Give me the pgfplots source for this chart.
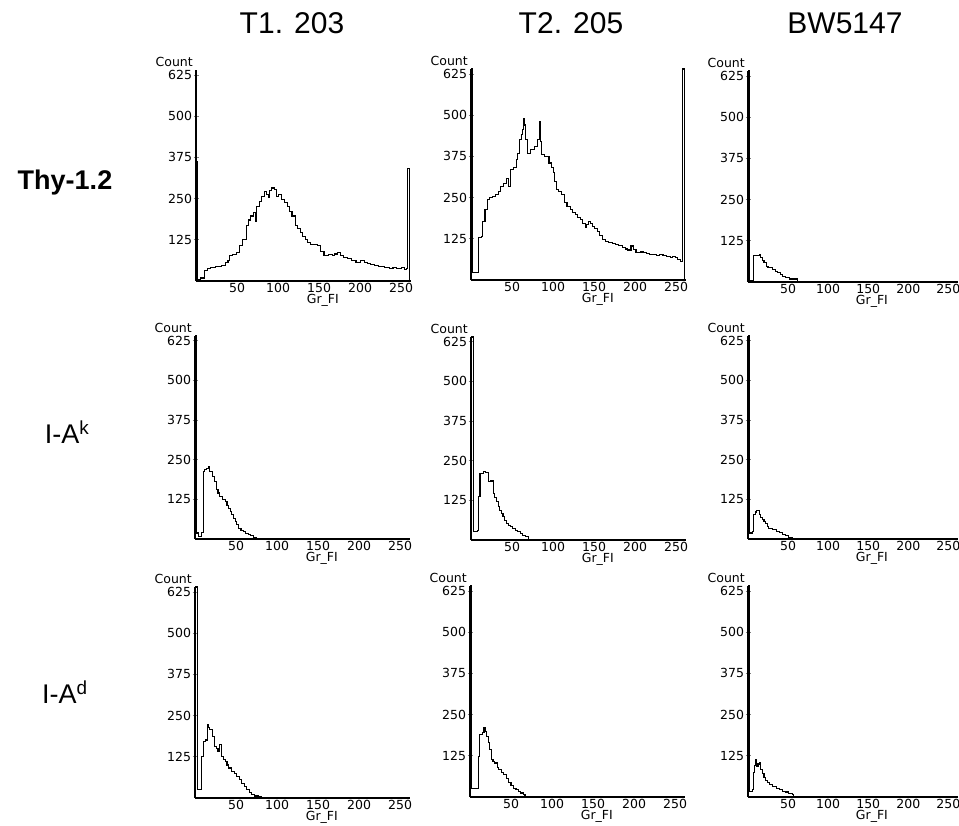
\documentclass[border=0pt]{standalone}
\usepackage{pgfplots}
\pgfplotsset{compat=1.18}
\usepackage{fontspec}
\setmainfont{DejaVu Sans}
\newfontfamily\headfont{Liberation Sans}

\pgfplotsset{
  histo/.style={
    scale only axis, width=215pt, height=211pt,
    xmin=0, xmax=262, ymin=0, ymax=640,
    axis lines*=left,
    axis line style={line width=1.6pt},
    xtick={50,100,150,200,250},
    ytick={125,250,375,500,625},
    major x tick style={draw=none},
    major y tick style={line width=0.8pt},
    major tick length=5pt, tick align=center,
    tick label style={font=\fontsize{12.5}{13}\selectfont},
    xticklabel style={inner sep=1pt, yshift=1pt},
    yticklabel style={xshift=2pt},
    /pgf/number format/assume math mode=true,
    ylabel={Count},
    ylabel style={rotate=-90, at={(axis description cs:0,1)}, anchor=south east,
      inner sep=1pt, xshift=-2pt, yshift=2pt, font=\fontsize{12.5}{13}\selectfont},
    xlabel={Gr\_FI},
    xlabel style={at={(axis description cs:0.59,0)}, anchor=north, inner sep=0.5pt,
      yshift=-13pt, font=\fontsize{12.5}{13}\selectfont},
    clip=false,
  },
  hline/.style={const plot, black, line width=1.1pt, mark=none},
}

\begin{document}
\begin{tikzpicture}[x=1pt,y=1pt]
\useasboundingbox (0,0) rectangle (959,826);

% column titles and row labels
\node[font=\headfont\fontsize{30}{32}\selectfont] at (292,803) {T1. 203};
\node[font=\headfont\fontsize{30}{32}\selectfont] at (571,803) {T2. 205};
\node[font=\headfont\fontsize{30}{32}\selectfont] at (845,803) {BW5147};
\node[font=\headfont\bfseries\fontsize{27}{30}\selectfont] at (65,643) {Thy-1.2};
\node[font=\headfont\fontsize{27}{30}\selectfont] at (67,394) {I-A\textsuperscript{k}};
\node[font=\headfont\fontsize{27}{30}\selectfont] at (65,134) {I-A\textsuperscript{d}};

% ---- row 1: Thy-1.2
\begin{axis}[histo, at={(196pt,545pt)}, anchor=south west]
\addplot[hline] coordinates {(0,362)(2,5)(6,9)(10,32)(14,38)(18,42)(24,44)(31,47)(36,55)
 (39,62)(41,77)(45,80)(49,87)(53,107)(57,127)(61,167)(64,185)(66,197)(70,207)
 (72,182)(74,227)(77,240)(80,257)(84,272)(86,262)(88,252)(90,275)(92,282)(96,277)
 (98,257)(101,262)(104,247)(108,238)(111,227)(114,212)(117,197)(121,167)(124,160)
 (127,147)(130,135)(133,127)(136,118)(139,112)(143,110)(148,107)(152,90)(156,77)
 (161,80)(166,77)(169,82)(172,87)(176,78)(180,72)(185,68)(189,62)(195,57)(201,62)
 (205,55)(209,52)(213,50)(217,47)(222,45)(226,44)(230,42)(236,37)(240,40)(244,39)
 (250,42)(254,36)(256,37)(258,342)(260,342)(260,0)};
\end{axis}

\begin{axis}[histo, at={(471pt,546pt)}, anchor=south west]
\addplot[hline] coordinates {(0,640)(2,22)(9,128)(13,133)(14,178)(17,214)(20,244)(23,250)
 (26,254)(30,259)(33,269)(36,284)(40,294)(43,309)(46,284)(48,335)(52,340)(55,365)
 (57,385)(59,425)(61,441)(63,456)(64,491)(65,470)(66,425)(69,385)(73,395)(77,405)
 (81,425)(83,440)(84,481)(85,420)(86,380)(90,375)(95,355)(98,340)(100,325)(102,300)
 (104,274)(107,268)(110,259)(114,234)(117,224)(121,214)(124,206)(127,199)(130,190)
 (133,183)(136,170)(139,158)(141,168)(143,178)(146,170)(148,163)(151,155)(154,148)
 (157,135)(160,123)(164,118)(168,113)(172,112)(176,108)(180,104)(185,98)(188,94)
 (191,91)(195,103)(198,92)(201,83)(206,85)(210,83)(214,80)(218,78)(222,77)(226,75)
 (230,76)(234,73)(238,72)(243,68)(246,70)(249,68)(252,62)(255,57)(258,640)(260,640)(260,0)};
\end{axis}

\begin{axis}[histo, width=210pt, at={(748pt,544pt)}, anchor=south west]
\addplot[hline] coordinates {(0,640)(2,5)(7,79)(9,80)(11,81)(14.5,84)(16,75)(18.6,64)(20,58)
 (22.7,48)(25,45)(27,43)(31,38)(34,33)(37,28)(40,22)(43,17)(47,13)(52,9)(58,9)(62,0)};
\end{axis}

% ---- row 2: I-A^k
\begin{axis}[histo, height=203pt, at={(195pt,287pt)}, anchor=south west]
\addplot[hline] coordinates {(0,640)(2,19)(4,8)(8,20)(10,212)(12,218)(14,223)(16,228)(18,212)
 (21.5,196)(24,181)(26,155)(28,145)(30,134)(34,125)(37,118)(39,105)(41,97)(43,86)
 (45,76)(47,65)(49,55)(51,45)(53,34)(56,28)(59,24)(62,18)(65,14)(68,10)(71,6)(75,0)};
\end{axis}

\begin{axis}[histo, height=203pt, at={(471pt,286pt)}, anchor=south west]
\addplot[hline] coordinates {(0,640)(3,26)(8,30)(9,136)(11,209)(15,217)(18,214)(21,183)(24,186)
 (27,146)(29,133)(31,120)(33,107)(35,94)(37,83)(39,73)(41,62)(43,52)(46,45)(48,42)
 (51,36)(54,31)(57,26)(60,21)(63,15)(66,10)(70,2)(72,0)};
\end{axis}

\begin{axis}[histo, width=210pt, height=203pt, at={(748pt,287pt)}, anchor=south west]
\addplot[hline] coordinates {(0,640)(2,19)(6,24)(7,76)(9,85)(11,90)(14,76)(16,68)(18,61)(20,55)
 (22,48)(24,40)(26,34)(30,31)(33,29)(36,25)(39,21)(43,15)(47,10)(50,6)(53,3)(55,0)};
\end{axis}

% ---- row 3: I-A^d
\begin{axis}[histo, at={(195pt,28pt)}, anchor=south west]
\addplot[hline] coordinates {(0,640)(3,25)(6,25)(8,126)(10,171)(13,176)(15,222)(16.5,215)(18,207)
 (21.5,186)(24,156)(26,150)(28,141)(30,161)(32.5,126)(35,118)(37,111)(39,100)(41,91)
 (45,81)(48,74)(51,66)(54,55)(57,45)(60,35)(63,25)(66,17)(69,10)(73,6)(77,3)(81,0)};
\end{axis}

\begin{axis}[histo, at={(470pt,29pt)}, anchor=south west]
\addplot[hline] coordinates {(0,640)(2,27)(6,27)(10,124)(12,189)(15.5,195)(17,210)(18.5,200)
 (20,184)(22,165)(24,144)(26,113)(28,108)(30,103)(33,90)(35,83)(38,75)(41,68)(44,55)
 (47,43)(50,35)(53,27)(56,22)(59,17)(62,12)(65,7)(67,0)};
\end{axis}

\begin{axis}[histo, width=210pt, at={(748pt,29pt)}, anchor=south west]
\addplot[hline] coordinates {(0,640)(2,17)(6,22)(7,73)(8,95)(9.5,113)(11,93)(12.5,100)(14,103)
 (16,83)(18,70)(20,58)(22,50)(24,43)(27,38)(31,32)(35,27)(39,22)(43,18)(47,15)(51,11)
 (55,7)(57,0)};
\end{axis}
\end{tikzpicture}
\end{document}
